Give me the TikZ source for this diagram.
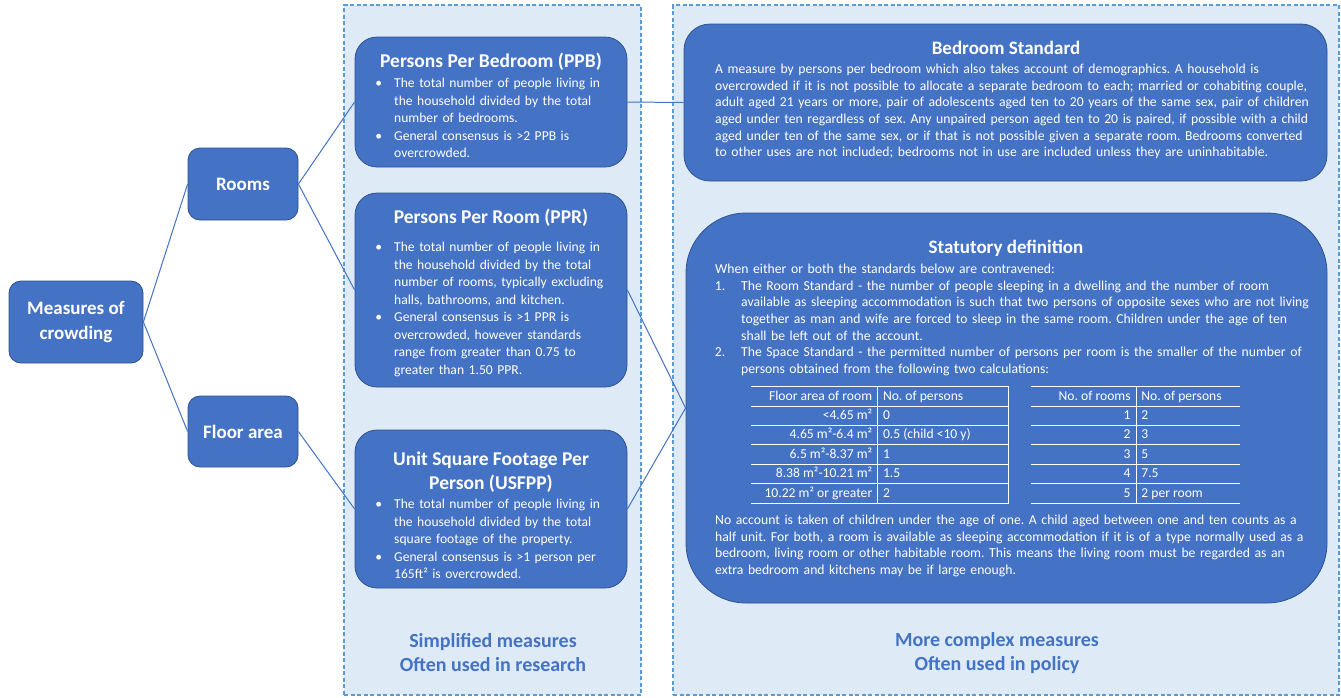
\documentclass[tikz,border=0pt]{standalone}
\usepackage{fontspec}
\setmainfont{Carlito}
\usepackage{enumitem}
\usepackage{colortbl}
\usetikzlibrary{positioning}
\frenchspacing

\definecolor{cardblue}{HTML}{4472C4}
\definecolor{cardedge}{HTML}{2F528F}
\definecolor{panelblue}{HTML}{DEEBF7}
\definecolor{dashblue}{HTML}{5B9BD5}

\setlist[itemize]{nosep, leftmargin=17pt, labelsep=12pt, label=\textbullet}
\setlist[enumerate]{nosep, leftmargin=26pt, labelsep=16pt}

\newcommand{\tabfont}{\fontsize{13.6}{18.6}\selectfont\arrayrulecolor{white}\setlength{\arrayrulewidth}{0.8pt}\setlength{\tabcolsep}{5pt}}

\tikzset{
  panel/.style={draw=dashblue, fill=panelblue, line width=1.2pt, dash pattern=on 4pt off 2.5pt},
  topic/.style={draw=cardedge, fill=cardblue, line width=0.8pt, rounded corners=12pt, text=white, align=center, font=\fontsize{19}{24.5}\selectfont\bfseries},
  card/.style={draw=cardedge, fill=cardblue, line width=0.8pt, rounded corners=22pt},
  cardhead/.style={text=white, align=center, inner sep=0pt, font=\fontsize{19.5}{24}\selectfont\bfseries},
  cardbody/.style={text=white, align=left, inner sep=0pt, anchor=north west, text width=245pt, font=\fontsize{13.6}{17.5}\selectfont},
  policybody/.style={text=white, align=left, inner sep=0pt, anchor=north west, text width=620pt, font=\fontsize{13.7}{16.6}\selectfont},
  tabnode/.style={text=white, inner sep=0pt, anchor=north},
  link/.style={draw=cardblue, line width=1pt},
  panelnote/.style={text=cardblue, align=center, font=\fontsize{20}{24}\selectfont\bfseries}
}

\begin{document}
\begin{tikzpicture}[x=1pt,y=-1pt]
\useasboundingbox (0,0) rectangle (1341,697);

% the two dashed groups
\node[panel, minimum width=297pt, minimum height=690pt] (simple) at (492.5,350) {};
\node[panel, minimum width=666pt, minimum height=690pt] (complex) at (1006,350) {};

% tree on the left
\node[topic, minimum width=134pt, minimum height=82pt] (measures) at (76,322) {Measures of\\crowding};
\node[topic, minimum width=110pt, minimum height=72pt] (rooms) at (243,184) {Rooms};
\node[topic, minimum width=110pt, minimum height=71pt] (floor) at (243,431.5) {Floor area};

% simplified measures
\node[card, minimum width=272pt, minimum height=130pt] (ppb) at (491,102) {};
\node[cardhead] (ppbhead) at (491,62) {Persons Per Bedroom (PPB)};
\node[cardbody] (ppbtext) at (377,70) {\begin{itemize}
\item The total number of people living in\newline the household divided by the total\newline number of bedrooms.
\item General consensus is >2 PPB is\newline overcrowded.
\end{itemize}};

\node[card, minimum width=272pt, minimum height=194pt] (ppr) at (491,290) {};
\node[cardhead] (pprhead) at (491,218) {Persons Per Room (PPR)};
\node[cardbody] (pprtext) at (377,234) {\begin{itemize}
\item The total number of people living in\newline the household divided by the total\newline number of rooms, typically excluding\newline halls, bathrooms, and kitchen.
\item General consensus is >1 PPR is\newline overcrowded, however standards\newline range from greater than 0.75 to\newline greater than 1.50 PPR.
\end{itemize}};

\node[card, minimum width=272pt, minimum height=158pt] (usfpp) at (491,509) {};
\node[cardhead] (usfpphead) at (491,472) {Unit Square Footage Per\\Person (USFPP)};
\node[cardbody] (usfpptext) at (377,491) {\begin{itemize}
\item The total number of people living in\newline the household divided by the total\newline square footage of the property.
\item General consensus is >1 person per\newline 165ft² is overcrowded.
\end{itemize}};

% more complex measures
\node[card, rounded corners=26pt, minimum width=643pt, minimum height=157pt] (bedroom) at (1005.5,102.5) {};
\node[cardhead, font=\fontsize{19}{23}\selectfont\bfseries] (bedroomhead) at (1006,48) {Bedroom Standard};
\node[policybody] (bedroomtext) at (715,64) {A measure by persons per bedroom which also takes account of demographics. A household is\\
overcrowded if it is not possible to allocate a separate bedroom to each; married or cohabiting couple,\\
adult aged 21 years or more, pair of adolescents aged ten to 20 years of the same sex, pair of children\\
aged under ten regardless of sex. Any unpaired person aged ten to 20 is paired, if possible with a child\\
aged under ten of the same sex, or if that is not possible given a separate room. Bedrooms converted\\
to other uses are not included; bedrooms not in use are included unless they are uninhabitable.};

\node[card, rounded corners=60pt, minimum width=641pt, minimum height=390pt] (statutory) at (1006.5,408) {};
\node[cardhead, font=\fontsize{19}{23}\selectfont\bfseries] (stathead) at (1006,248) {Statutory definition};
\node[policybody] (stattext) at (715,264) {When either or both the standards below are contravened:
\begin{enumerate}
\item The Room Standard - the number of people sleeping in a dwelling and the number of room\newline available as sleeping accommodation is such that two persons of opposite sexes who are not living\newline together as man and wife are forced to sleep in the same room. Children under the age of ten\newline shall be left out of the account.
\item The Space Standard - the permitted number of persons per room is the smaller of the number of\newline persons obtained from the following two calculations:
\end{enumerate}};

\node[tabnode] (areatab) at (880,386) {\tabfont
\begin{tabular}{>{\raggedleft\arraybackslash}p{116pt}|p{120pt}|}
\hline
Floor area of room & No. of persons\\ \hline
<4.65 m² & 0\\ \hline
4.65 m²-6.4 m² & 0.5 (child <10 y)\\ \hline
6.5 m²-8.37 m² & 1\\ \hline
8.38 m²-10.21 m² & 1.5\\ \hline
10.22 m² or greater & 2\\ \hline
\end{tabular}};

\node[tabnode] (roomtab) at (1135.5,386) {\tabfont
\begin{tabular}{>{\raggedleft\arraybackslash}p{95pt}|p{94pt}}
\hline
No. of rooms & No. of persons\\ \hline
1 & 2\\ \hline
2 & 3\\ \hline
3 & 5\\ \hline
4 & 7.5\\ \hline
5 & 2 per room\\ \hline
\end{tabular}};

\node[policybody] (closetext) at (715,515) {No account is taken of children under the age of one. A child aged between one and ten counts as a\\
half unit. For both, a room is available as sleeping accommodation if it is of a type normally used as a\\
bedroom, living room or other habitable room. This means the living room must be regarded as an\\
extra bedroom and kitchens may be if large enough.};

% captions under the groups
\node[panelnote] (simplenote) at (493,653) {Simplified measures\\Often used in research};
\node[panelnote] (complexnote) at (997,653) {More complex measures\\Often used in policy};

% connectors
\draw[link] (measures.east) -- (rooms.west);
\draw[link] (measures.east) -- (floor.west);
\draw[link] (rooms.east) -- (ppb.west);
\draw[link] (rooms.east) -- (ppr.west);
\draw[link] (floor.east) -- (usfpp.west);
\draw[link] (ppb.east) -- (bedroom.west);
\draw[link] (ppr.east) -- (statutory.west);
\draw[link] (usfpp.east) -- (statutory.west);
\end{tikzpicture}
\end{document}
